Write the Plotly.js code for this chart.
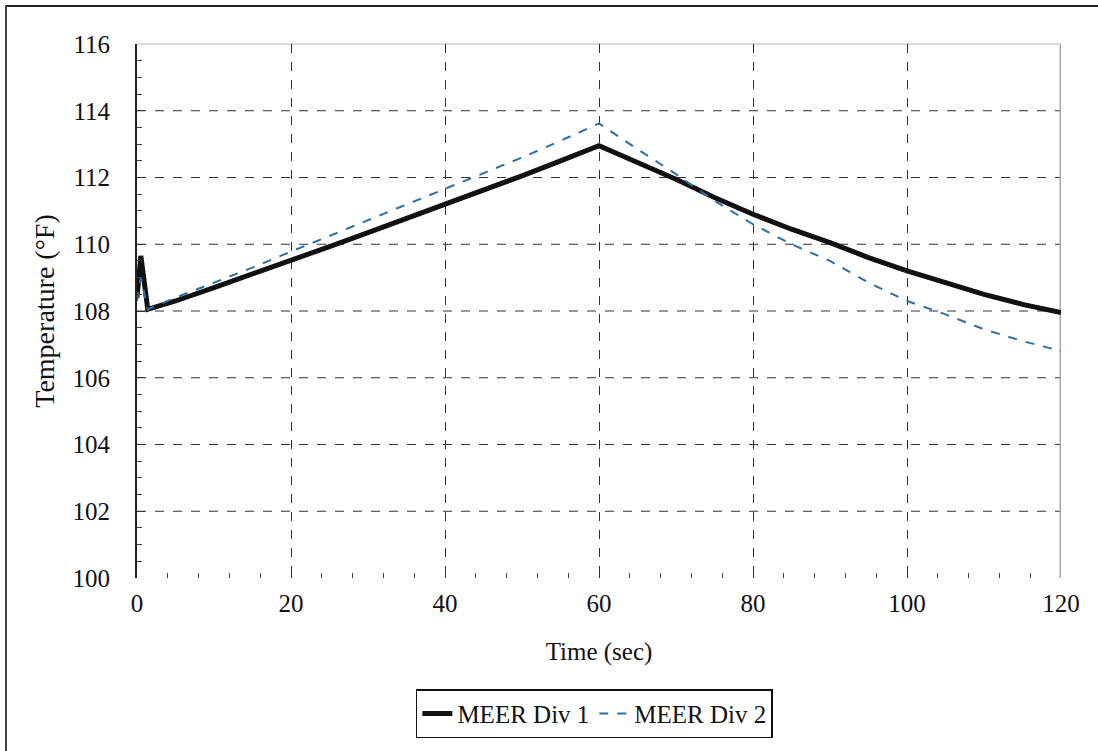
<!DOCTYPE html>
<html>
<head>
<meta charset="utf-8">
<script src="https://cdn.plot.ly/plotly-3.0.1.min.js"></script>
<style>
  html, body { margin: 0; padding: 0; background: #fff; }
  #frame { position: absolute; left: 0; top: 0; width: 1098px; height: 751px; }
  #edgeTop { position: absolute; left: 6px; top: 5px; width: 1092px; height: 2px; background: #222; }
  #edgeLeft { position: absolute; left: 5px; top: 5px; width: 2px; height: 746px; background: #444; }
</style>
</head>
<body>
<div id="frame"></div>
<div id="edgeTop"></div>
<div id="edgeLeft"></div>
<script>
// Time (sec)
const time = [0, 0.5, 1.4, 5, 10, 15, 20, 25, 30, 35, 40, 45, 50, 55, 60,
              65, 70, 75, 80, 85, 90, 95, 100, 105, 110, 115, 120];

// Temperature (°F), division 1
const div1 = [108.4, 109.65, 108.05, 108.3, 108.7, 109.1, 109.5, 109.93, 110.35, 110.77, 111.19, 111.62, 112.05, 112.5, 112.95,
              112.45, 111.95, 111.4, 110.9, 110.45, 110.05, 109.6, 109.2, 108.85, 108.5, 108.2, 107.95];

// Temperature (°F), division 2
const div2 = [108.3, 109.0, 108.05, 108.4, 108.85, 109.3, 109.78, 110.25, 110.7, 111.17, 111.64, 112.12, 112.6, 113.1, 113.62,
              112.85, 112.1, 111.3, 110.6, 110.0, 109.5, 108.85, 108.3, 107.9, 107.45, 107.1, 106.8];

const seriesNames = ['MEER Div 1', 'MEER Div 2'];
const xTicks = [0, 20, 40, 60, 80, 100, 120];
const yTicks = [100, 102, 104, 106, 108, 110, 112, 114, 116];
const yGrid = [102, 104, 106, 108, 110, 112, 114];

const serif = 'Liberation Serif, Times New Roman, serif';

const traces = [
  {
    x: time, y: div1, name: seriesNames[0], type: 'scatter', mode: 'lines',
    line: { color: '#111', width: 5 }
  },
  {
    x: time, y: div2, name: seriesNames[1], type: 'scatter', mode: 'lines',
    line: { color: '#2f6ea3', width: 2, dash: 'dash' }
  }
];

// interior horizontal grid lines (dashed), none on the top/bottom edges
const gridShapes = yGrid.map(v => ({
  type: 'line', xref: 'paper', yref: 'y', x0: 0, x1: 1, y0: v, y1: v,
  line: { color: '#333', width: 1, dash: 'dash' }, layer: 'below'
}));

const layout = {
  width: 1098, height: 751,
  margin: { l: 137, r: 37, t: 44, b: 173 },
  paper_bgcolor: 'rgba(0,0,0,0)', plot_bgcolor: '#fff',
  font: { family: serif, color: '#111', size: 25 },
  showlegend: true,
  legend: {
    orientation: 'h', x: 0.495, xanchor: 'center', y: -0.3, yanchor: 'bottom',
    bordercolor: '#111', borderwidth: 1.5, font: { size: 25, family: serif },
    itemwidth: 30, tracegroupgap: 0
  },
  xaxis: {
    range: [0, 120], tickvals: xTicks, ticktext: xTicks.map(String),
    showgrid: true, gridcolor: '#333', griddash: 'dash', gridwidth: 1,
    zeroline: false, showline: false,
    ticks: 'inside', ticklen: 6, tickcolor: '#333', ticklabelstandoff: 8,
    minor: { dtick: 4, tick0: 0, ticks: 'inside', ticklen: 5, tickcolor: '#444', showgrid: false },
    title: { text: 'Time (sec)', font: { size: 25, family: serif }, standoff: 26 }
  },
  yaxis: {
    range: [100, 116], tickvals: yTicks, ticktext: yTicks.map(String),
    showgrid: false,
    zeroline: false, showline: true, linecolor: '#222', linewidth: 2,
    ticks: 'inside', ticklen: 8, tickcolor: '#333', ticklabelstandoff: 20,
    minor: { dtick: 0.5, tick0: 100, ticks: 'inside', ticklen: 5, tickcolor: '#444', showgrid: false },
    title: { text: 'Temperature (°F)', font: { size: 28, family: serif }, standoff: 10 }
  },
  shapes: gridShapes.concat([
    { type: 'line', xref: 'x', yref: 'paper', x0: 120, x1: 120, y0: 0, y1: 1,
      line: { color: '#a9a9b0', width: 3 }, layer: 'below' },
    { type: 'line', xref: 'paper', yref: 'paper', x0: 0, x1: 1, y0: 1, y1: 1,
      line: { color: '#cfcfcf', width: 1.5 }, layer: 'below' }
  ])
};

Plotly.newPlot('frame', traces, layout, { staticPlot: true });
</script>
</body>
</html>
